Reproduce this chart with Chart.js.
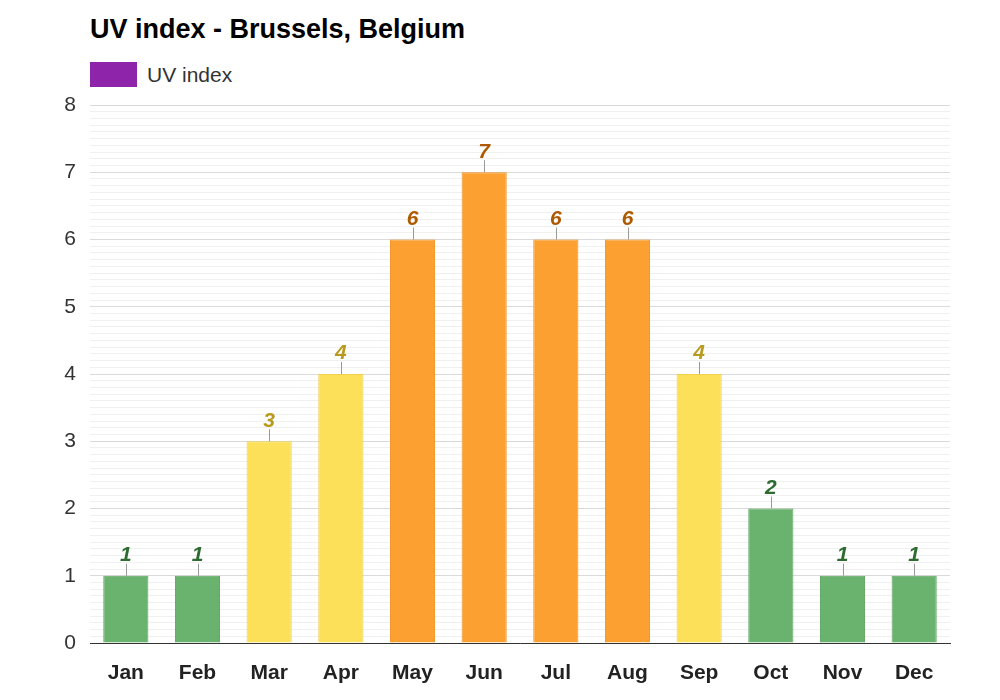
<!DOCTYPE html>
<html><head><meta charset="utf-8">
<script src="https://cdn.jsdelivr.net/npm/chart.js@4"></script>
<style>
body{margin:0;background:#fff;font-family:Arial,"Liberation Sans",sans-serif}
#wrap{position:relative;width:1000px;height:700px}
#title{position:absolute;left:90px;top:14px;font-size:27px;font-weight:bold;color:#000}
#leg{position:absolute;left:90px;top:62px;font-size:21px;color:#333;display:flex;align-items:center}
#leg span{display:inline-block;width:47px;height:25px;background:#8e24aa;margin-right:10px}
canvas{position:absolute;left:0;top:0}
</style></head><body>
<div id="wrap"><div id="title">UV index - Brussels, Belgium</div>
<div id="leg"><span></span>UV index</div>
<canvas id="c" width="1000" height="700"></canvas></div>
<script>
const months=["Jan","Feb","Mar","Apr","May","Jun","Jul","Aug","Sep","Oct","Nov","Dec"];
const uv=[1,1,3,4,6,7,6,6,4,2,1,1];
function fill(v){return v<=2?"#6ab36e":v<=5?"#fce05a":"#fca031";}
function txt(v){return v<=2?"#2e6b30":v<=5?"#b89a1c":"#b05a00";}
const labelPlugin={id:"lbl",afterDatasetsDraw(ch){
  const c=ch.ctx,meta=ch.getDatasetMeta(0);
  meta.data.forEach((b,i)=>{
    c.save();c.strokeStyle="#999";c.lineWidth=1;
    c.beginPath();c.moveTo(Math.round(b.x)+0.5,b.y);c.lineTo(Math.round(b.x)+0.5,b.y-12);c.stroke();
    c.fillStyle=txt(uv[i]);c.font="italic bold 21px Arial";c.textAlign="center";c.textBaseline="bottom";
    c.fillText(uv[i],b.x,b.y-10);c.restore();
  });
}};
new Chart(document.getElementById("c"),{type:"bar",
data:{labels:months,datasets:[{data:uv,backgroundColor:uv.map(fill),borderColor:uv.map(v=>v<=2?"#5aa35e":v<=5?"#f0d04a":"#f09021"),borderWidth:1,barPercentage:0.63,categoryPercentage:1}]},
options:{responsive:false,animation:false,devicePixelRatio:1,
layout:{padding:{top:105,right:50,left:0,bottom:0}},
plugins:{legend:{display:false},tooltip:{enabled:false}},
scales:{
 x:{grid:{display:false},border:{color:"#333"},ticks:{color:"#222",font:{size:21,weight:"bold"},padding:10},
    afterFit(s){s.height=57;}},
 y:{min:0,max:8,border:{display:false},
    ticks:{stepSize:0.1,autoSkip:false,color:"#333",font:{size:21},padding:14,
      callback(v){const r=Math.round(v*10)/10;return Number.isInteger(r)?r:"";}},
    grid:{drawTicks:false,color(ctx){const v=Math.round(ctx.tick.value*10)/10;return Number.isInteger(v)?"#dadada":"#f0f0f0";}},
    afterFit(s){s.width=90;}}
}},plugins:[labelPlugin]});
</script></body></html>
